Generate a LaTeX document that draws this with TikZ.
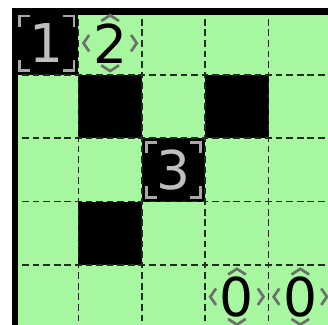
\documentclass[tikz,border=0pt]{standalone}
\usepackage{fontspec}
\setmainfont{DejaVu Sans}
\usetikzlibrary{positioning}
\definecolor{Mint}{HTML}{A6F7A0}
\definecolor{GridInk}{HTML}{1F2E1F}
\definecolor{Chalk}{HTML}{BEBEBE}
\definecolor{Frame}{HTML}{A8A8A8}
\definecolor{Hint}{HTML}{6E6E6E}

\begin{document}
\begin{tikzpicture}[x=1cm,y=1cm,
    cell/.style={minimum size=1cm,inner sep=0pt,outer sep=0pt,font=\fontsize{24}{24}\selectfont},
    gridline/.style={GridInk,line width=0.75pt,dash pattern=on 3pt off 1.74pt,dash phase=1.5pt},
    corner/.style={Frame,line width=1.2pt},
    chevron/.style={Hint,line width=1.2pt}]
  \useasboundingbox (-0.237,0.055) rectangle (4.937,5.181);
  \fill[Mint] (0,0) rectangle (5,5);
  \foreach \cx/\cy in {0/0,1/1,3/1,2/2,1/3}
    \fill[black] (\cx,4-\cy) rectangle ++(1,1);
  \draw[gridline] (0,0) grid (5,5);
  \draw[line width=0.1cm] (0,0) -- (0,5) -- (5,5);

  % clues
  \node[cell,text=Chalk] (one) at (0.5,4.5) {1};
  \node[cell,text=Chalk] (three) at (2.5,2.5) {3};
  \node[cell] (two) at (1.5,4.5) {2};
  \node[cell] (zeroA) at (3.5,0.5) {0};
  \node[cell] (zeroB) at (4.5,0.5) {0};

  \foreach \n in {one,three}
    \foreach \a/\sx/\sy in {north west/1/-1,north east/-1/-1,south west/1/1,south east/-1/1}
      \draw[corner] ([shift={(0.07*\sx,0.24*\sy)}]\n.\a) -- ++(0,-0.17*\sy) -- ++(0.17*\sx,0);

  \foreach \n in {two,zeroA,zeroB}{
    \draw[chevron] ([shift={(-0.33,0.13)}]\n.center) -- ++(-0.09,-0.13) -- ++(0.09,-0.13);
    \draw[chevron] ([shift={(0.33,0.13)}]\n.center) -- ++(0.09,-0.13) -- ++(-0.09,-0.13);
    \draw[chevron] ([shift={(-0.14,0.35)}]\n.center) -- ++(0.14,0.09) -- ++(0.14,-0.09);
    \draw[chevron] ([shift={(-0.14,-0.35)}]\n.center) -- ++(0.14,-0.09) -- ++(0.14,0.09);
  }
\end{tikzpicture}
\end{document}
